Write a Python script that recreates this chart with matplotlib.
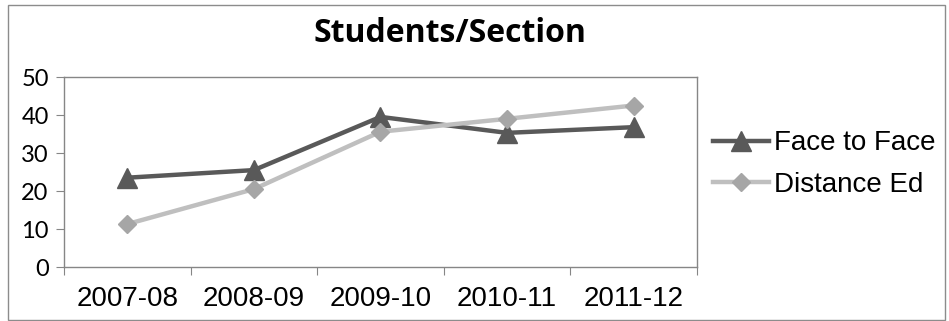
import matplotlib
matplotlib.use("Agg")
import matplotlib.pyplot as plt
from matplotlib.patches import Rectangle

years = ["2007-08", "2008-09", "2009-10", "2010-11", "2011-12"]
face_to_face = [23.5, 25.5, 39.5, 35.3, 36.8]
distance_ed = [11.3, 20.5, 35.6, 39.0, 42.5]

fig = plt.figure(figsize=(9.49, 3.21), dpi=100)
ax = fig.add_axes([64 / 949, 54 / 321, 633 / 949, 190 / 321])

x = list(range(len(years)))
ax.plot(x, face_to_face, color="#595959", lw=3.2, marker="^", ms=14,
        mfc="#595959", mec="#595959", label="Face to Face", solid_joinstyle="round")
ax.plot(x, distance_ed, color="#BFBFBF", lw=3.2, marker="D", ms=9.5,
        mfc="#A6A6A6", mec="#A6A6A6", label="Distance Ed", solid_joinstyle="round")

ax.set_ylim(0, 50)
ax.set_yticks(range(0, 51, 10))
ax.set_xlim(-0.5, len(years) - 0.5)
ax.set_xticks([i - 0.5 for i in range(len(years) + 1)])
ax.set_xticklabels([])
ax.set_xticks(x, minor=True)
ax.set_xticklabels(years, minor=True, fontsize=20, family="Liberation Sans")
ax.tick_params(axis="x", which="major", length=6, color="#868686", direction="out")
ax.tick_params(axis="x", which="minor", length=0, pad=14)
ax.tick_params(axis="y", length=6, color="#868686", pad=5)
for lab in ax.get_yticklabels():
    lab.set_fontsize(17)
    lab.set_family("Lato")
for s in ax.spines.values():
    s.set_color("#868686")
    s.set_linewidth(1)

fig.text(450 / 949, 1 - 33 / 321, "Students/Section", ha="center", va="center",
         fontsize=23, fontweight="bold", family="Open Sans")

fig.legend(loc="center left", bbox_to_anchor=(713 / 949, 1 - 164 / 321),
           frameon=False, handlelength=2.0, handletextpad=0.2,
           labelspacing=0.55, borderpad=0, borderaxespad=0,
           prop={"family": "Liberation Sans", "size": 20})

fig.patches.append(Rectangle((8 / 949, 1 / 321), 937 / 949, 315 / 321,
                             transform=fig.transFigure, fill=False,
                             edgecolor="#8C8C8C", lw=1))

fig.savefig("out.png", dpi=100)
